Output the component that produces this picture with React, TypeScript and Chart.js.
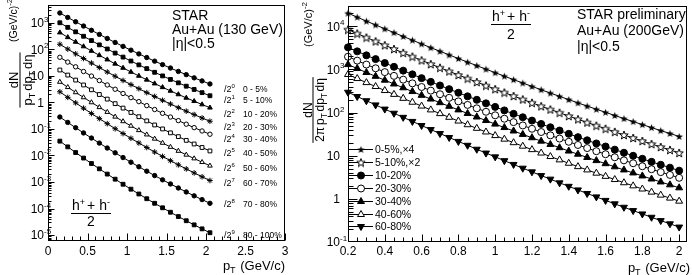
import React, { useEffect, useRef } from 'react';
import { Chart, registerables } from 'chart.js';
import { drawPoint } from 'chart.js/helpers';

Chart.register(...registerables);

// ---------------- Left panel: Au+Au 130 GeV, dN/(pT dpT deta), scaled by 1/2^n ----------------
const ptLeft = [0.15, 0.25, 0.35, 0.45, 0.55, 0.65, 0.75, 0.85, 0.95, 1.05, 1.15, 1.25, 1.35, 1.45, 1.55, 1.65, 1.75, 1.85, 1.95, 2.05];
const cent130 = ['0 - 5%', '5 - 10%', '10 - 20%', '20 - 30%', '30 - 40%', '40 - 50%', '50 - 60%', '60 - 70%', '70 - 80%', '80 - 100%'];
const scaleExp130 = ['0', '1', '2', '3', '4', '5', '6', '7', '8', '9'];
const h130_0_5 = [2340, 1590, 1090, 752, 521, 364, 256, 181, 129, 92.9, 67.1, 48.9, 35.8, 26.5, 19.7, 14.7, 11.1, 8.41, 6.44, 4.95];
const h130_5_10 = [1000, 672, 455, 310, 213, 147, 103, 72.0, 50.9, 36.2, 25.9, 18.7, 13.6, 9.96, 7.34, 5.45, 4.08, 3.07, 2.33, 1.78];
const h130_10_20 = [427, 284, 190, 128, 86.9, 59.4, 41.0, 28.4, 19.9, 14.0, 9.94, 7.11, 5.12, 3.71, 2.71, 2.0, 1.48, 1.11, 0.832, 0.63];
const h130_20_30 = [155, 102, 67.5, 45.1, 30.3, 20.6, 14.0, 9.66, 6.7, 4.68, 3.29, 2.33, 1.67, 1.2, 0.87, 0.635, 0.468, 0.347, 0.259, 0.195];
const h130_30_40 = [50.1, 33.0, 21.9, 14.6, 9.81, 6.65, 4.54, 3.13, 2.17, 1.51, 1.07, 0.755, 0.539, 0.388, 0.281, 0.206, 0.151, 0.112, 0.0838, 0.0631];
const h130_40_50 = [16.6, 10.7, 6.93, 4.53, 2.99, 1.98, 1.33, 0.897, 0.61, 0.418, 0.289, 0.201, 0.141, 0.1, 0.0713, 0.0513, 0.0371, 0.0271, 0.02, 0.0148];
const h130_50_60 = [5.89, 3.73, 2.38, 1.54, 0.998, 0.654, 0.432, 0.287, 0.193, 0.13, 0.089, 0.0612, 0.0424, 0.0297, 0.0209, 0.0148, 0.0106, 0.00768, 0.00559, 0.0041];
const h130_60_70 = [2.51, 1.55, 0.964, 0.605, 0.383, 0.245, 0.158, 0.102, 0.0671, 0.0444, 0.0296, 0.0199, 0.0135, 0.00924, 0.00638, 0.00444, 0.00312, 0.00221, 0.00158, 0.00114];
const h130_70_80 = [0.282, 0.176, 0.111, 0.0707, 0.0453, 0.0293, 0.0191, 0.0126, 0.00834, 0.00558, 0.00376, 0.00256, 0.00175, 0.00121, 0.000846, 0.000595, 0.000422, 0.000302, 0.000218, 0.000158];
const h130_80_100 = [0.0347, 0.0211, 0.0129, 0.00799, 0.00498, 0.00314, 0.00199, 0.00128, 0.000825, 0.000538, 0.000354, 0.000235, 0.000158, 0.000107, 0.0000727, 0.00005, 0.0000348, 0.0000243, 0.0000172, 0.0000123];
const series130 = [h130_0_5, h130_5_10, h130_10_20, h130_20_30, h130_30_40, h130_40_50, h130_50_60, h130_60_70, h130_70_80, h130_80_100];

const leftXTicks = [0, 0.5, 1, 1.5, 2, 2.5, 3];
const leftXTickLabels = ['0', '0.5', '1', '1.5', '2', '2.5', '3'];
const leftYTicks = [1e-5, 1e-4, 1e-3, 1e-2, 1e-1, 1, 10, 100, 1000];
const leftYTickBase = ['10', '10', '10', '10', '10', '1', '10', '10', '10'];
const leftYTickExp = ['-5', '-4', '-3', '-2', '-1', '', '', '2', '3'];

// ---------------- Right panel: Au+Au 200 GeV, dN/(2pi pT dpT deta) ----------------
const ptRight = [0.2, 0.25, 0.3, 0.35, 0.4, 0.45, 0.5, 0.55, 0.6, 0.65, 0.7, 0.75, 0.8, 0.85, 0.9, 0.95, 1.0, 1.05, 1.1, 1.15, 1.2, 1.25, 1.3, 1.35, 1.4, 1.45, 1.5, 1.55, 1.6, 1.65, 1.7, 1.75, 1.8, 1.85, 1.9, 1.95, 2.0];
const cent200 = ['0-5%,\u00d74', '5-10%,\u00d72', '10-20%', '20-30%', '30-40%', '40-60%', '60-80%'];
const h200_0_5x4 = [20000, 16200, 13100, 10700, 8690, 7100, 5790, 4740, 3880, 3180, 2620, 2160, 1780, 1470, 1220, 1010, 836, 695, 578, 482, 403, 337, 282, 237, 199, 167, 141, 119, 101, 85.5, 72.4, 61.7, 52.5, 44.7, 38.1, 32.7, 27.9];
const h200_5_10x2 = [8330, 6750, 5460, 4460, 3620, 2960, 2410, 1975, 1617, 1325, 1092, 900, 742, 612, 508, 421, 348, 290, 241, 201, 168, 140, 117.5, 98.8, 82.9, 69.6, 58.8, 49.6, 42.1, 35.6, 30.2, 25.7, 21.9, 18.6, 15.9, 13.6, 11.6];
const h200_10_20 = [3230, 2610, 2110, 1726, 1402, 1145, 934, 765, 626, 513, 423, 348, 287, 237, 197, 163, 135, 112, 93.2, 77.7, 65.0, 54.4, 45.5, 38.2, 32.1, 26.9, 22.7, 19.2, 16.3, 13.8, 11.7, 9.95, 8.47, 7.21, 6.15, 5.27, 4.5];
const h200_20_30 = [1961, 1593, 1292, 1058, 862, 706, 578, 474, 390, 321, 265, 219, 181, 150, 125, 104, 86.1, 71.8, 59.9, 50.1, 42.0, 35.3, 29.6, 24.9, 21.0, 17.7, 15.0, 12.7, 10.8, 9.18, 7.8, 6.67, 5.69, 4.86, 4.16, 3.58, 3.07];
const h200_30_40 = [1290, 1045, 845, 690, 561, 458, 374, 306, 250, 205, 169, 139, 115, 94.8, 78.7, 65.2, 53.9, 44.8, 37.3, 31.1, 26.0, 21.7, 18.2, 15.3, 12.8, 10.8, 9.1, 7.68, 6.52, 5.52, 4.67, 3.98, 3.39, 2.88, 2.46, 2.11, 1.8];
const h200_40_60 = [760, 612, 493, 400, 323, 263, 213, 173, 141, 115, 94.3, 77.4, 63.4, 52.1, 43.0, 35.4, 29.2, 24.1, 20.0, 16.6, 13.8, 11.5, 9.55, 7.99, 6.67, 5.57, 4.68, 3.93, 3.32, 2.8, 2.36, 2.0, 1.69, 1.43, 1.22, 1.04, 0.883];
const h200_60_80 = [295, 235, 187.5, 150, 120, 96.3, 77.3, 62.2, 50.0, 40.3, 32.6, 26.4, 21.4, 17.4, 14.1, 11.5, 9.38, 7.66, 6.27, 5.13, 4.22, 3.46, 2.86, 2.35, 1.95, 1.61, 1.33, 1.11, 0.92, 0.766, 0.638, 0.534, 0.447, 0.374, 0.313, 0.264, 0.222];
const series200 = [h200_0_5x4, h200_5_10x2, h200_10_20, h200_20_30, h200_30_40, h200_40_60, h200_60_80];

const rightXTicks = [0.2, 0.4, 0.6, 0.8, 1, 1.2, 1.4, 1.6, 1.8, 2];
const rightXTickLabels = ['0.2', '0.4', '0.6', '0.8', '1', '1.2', '1.4', '1.6', '1.8', '2'];
const rightYTicks = [0.1, 1, 10, 100, 1000, 10000];
const rightYTickBase = ['10', '1', '10', '10', '10', '10'];
const rightYTickExp = ['-1', '', '', '2', '3', '4'];

// ---------------- drawing helpers ----------------
const FONT = '"Liberation Sans", Arial, Helvetica, sans-serif';
const fnt = (s: number) => `${s}px ${FONT}`;

type Part = { t: string; s: number; dy?: number; gap?: number };

function partsWidth(ctx: CanvasRenderingContext2D, parts: Part[]) {
  let w = 0;
  for (const p of parts) {
    ctx.font = fnt(p.s);
    w += ctx.measureText(p.t).width + (p.gap || 0);
  }
  return w;
}

function drawRich(ctx: CanvasRenderingContext2D, parts: Part[], x: number, y: number, align: 'left' | 'center' | 'right') {
  const w = partsWidth(ctx, parts);
  let cx = align === 'left' ? x : align === 'center' ? x - w / 2 : x - w;
  ctx.textAlign = 'left';
  ctx.textBaseline = 'alphabetic';
  for (const p of parts) {
    ctx.font = fnt(p.s);
    ctx.fillText(p.t, cx, y + (p.dy || 0));
    cx += ctx.measureText(p.t).width + (p.gap || 0);
  }
}

type AxisCfg = {
  xTicks: number[]; xTickLabels: string[]; xStart: number; xMinorStep: number; xMajorStep: number;
  xMajorLen: number; xMinorLen: number; xLabelBaseline: number;
  yTicks: number[]; yTickBase: string[]; yTickExp: string[]; yMajorLen: number; yMinorLen: number; yLabelGap: number;
  tickFont: number; expFont: number;
};

function drawAxes(chart: any, cfg: AxisCfg) {
  const { ctx, chartArea: a } = chart;
  const xs = chart.scales.x, ys = chart.scales.y;
  const L = Math.round(a.left) + 0.5, R = Math.round(a.right) - 0.5, T = Math.round(a.top) + 0.5, B = Math.round(a.bottom) - 0.5;
  ctx.save();
  ctx.strokeStyle = '#000';
  ctx.fillStyle = '#000';
  ctx.lineWidth = 1;
  ctx.strokeRect(L, T, R - L, B - T);
  ctx.beginPath();
  for (let i = 0; i < 500; i++) {
    const v = cfg.xStart + i * cfg.xMinorStep;
    if (v > xs.max + 1e-9) break;
    const px = Math.round(xs.getPixelForValue(v)) + 0.5;
    const q = (v - cfg.xStart) / cfg.xMajorStep;
    const major = Math.abs(q - Math.round(q)) < 1e-6;
    ctx.moveTo(px, B);
    ctx.lineTo(px, B - (major ? cfg.xMajorLen : cfg.xMinorLen));
  }
  const lo = Math.floor(Math.log10(ys.min)), hi = Math.ceil(Math.log10(ys.max));
  for (let d = lo; d <= hi; d++) {
    for (let k = 1; k <= 9; k++) {
      const v = k * Math.pow(10, d);
      if (v <= ys.min || v >= ys.max) continue;
      const py = Math.round(ys.getPixelForValue(v)) + 0.5;
      ctx.moveTo(L, py);
      ctx.lineTo(L + (k === 1 ? cfg.yMajorLen : cfg.yMinorLen), py);
    }
  }
  ctx.stroke();
  cfg.xTicks.forEach((v, i) => {
    drawRich(ctx, [{ t: cfg.xTickLabels[i], s: cfg.tickFont }], xs.getPixelForValue(v), cfg.xLabelBaseline, 'center');
  });
  cfg.yTicks.forEach((v, i) => {
    const py = ys.getPixelForValue(v);
    const xr = a.left - cfg.yLabelGap;
    ctx.textBaseline = 'alphabetic';
    ctx.font = fnt(cfg.tickFont);
    ctx.textAlign = 'right';
    ctx.fillText(cfg.yTickBase[i], xr, py + cfg.tickFont * 0.36);
    if (cfg.yTickExp[i]) {
      ctx.font = fnt(cfg.expFont);
      ctx.textAlign = 'left';
      ctx.fillText(cfg.yTickExp[i], xr, py - 1);
    }
  });
  ctx.restore();
}

function drawHFrac(ctx: CanvasRenderingContext2D, cx: number, numBase: number, barY: number, denBase: number, s: number) {
  const parts: Part[] = [
    { t: 'h', s },
    { t: '+', s: s * 0.65, dy: -s * 0.38, gap: 2 },
    { t: '+ h', s },
    { t: '-', s: s * 0.65, dy: -s * 0.38 },
  ];
  drawRich(ctx, parts, cx, numBase, 'center');
  const w = partsWidth(ctx, parts);
  ctx.fillRect(Math.round(cx - w / 2 - 1), barY, Math.round(w + 2), 1);
  drawRich(ctx, [{ t: '2', s }], cx, denBase, 'center');
}

function makeStar(size: number, filled: boolean) {
  const c = document.createElement('canvas');
  c.width = size;
  c.height = size;
  const g = c.getContext('2d')!;
  const cx = size / 2, cy = size / 2 + 0.4, R = size / 2 - 0.6, r = R * 0.42;
  g.beginPath();
  for (let i = 0; i < 10; i++) {
    const ang = -Math.PI / 2 + (i * Math.PI) / 5;
    const rad = i % 2 === 0 ? R : r;
    g.lineTo(cx + rad * Math.cos(ang), cy + rad * Math.sin(ang));
  }
  g.closePath();
  if (filled) {
    g.fillStyle = '#000';
    g.fill();
  } else {
    g.fillStyle = '#fff';
    g.fill();
    g.strokeStyle = '#000';
    g.lineWidth = 1;
    g.stroke();
  }
  return c;
}

// ---------------- chart builders ----------------
function buildLeft(canvas: HTMLCanvasElement) {
  const styles: any[] = [
    { ps: 'circle', r: 2.2, bg: '#000' },
    { ps: 'rect', r: 2.7, bg: '#000' },
    { ps: 'triangle', r: 2.7, bg: '#000' },
    { ps: 'star', r: 2.8, bg: '#000' },
    { ps: 'circle', r: 2.2, bg: '#fff' },
    { ps: 'rect', r: 2.7, bg: '#fff' },
    { ps: 'triangle', r: 2.7, bg: '#fff' },
    { ps: 'star', r: 2.8, bg: '#000' },
    { ps: 'circle', r: 2.2, bg: '#000' },
    { ps: 'rect', r: 2.7, bg: '#000' },
  ];
  const datasets = series130.map((ys, k) => ({
    label: cent130[k],
    data: ptLeft.map((x, i) => ({ x, y: ys[i] })),
    showLine: true,
    borderColor: '#000',
    borderWidth: 1,
    pointStyle: styles[k].ps,
    pointRadius: styles[k].r,
    pointBackgroundColor: styles[k].bg,
    pointBorderColor: '#000',
    pointBorderWidth: 1,
    clip: false,
  }));
  const labelY = [89, 100, 114, 127, 139, 153, 168, 183, 204, 235];
  const plugin = {
    id: 'leftDecor',
    afterDraw(chart: any) {
      const ctx: CanvasRenderingContext2D = chart.ctx;
      drawAxes(chart, {
        xTicks: leftXTicks, xTickLabels: leftXTickLabels, xStart: 0, xMinorStep: 0.1, xMajorStep: 0.5,
        xMajorLen: 7, xMinorLen: 4, xLabelBaseline: 254.5,
        yTicks: leftYTicks, yTickBase: leftYTickBase, yTickExp: leftYTickExp, yMajorLen: 6, yMinorLen: 3, yLabelGap: 4,
        tickFont: 12, expFont: 8,
      });
      ctx.save();
      ctx.fillStyle = '#000';
      drawRich(ctx, [{ t: 'STAR', s: 14 }], 172, 20, 'left');
      drawRich(ctx, [{ t: 'Au+Au (130 GeV)', s: 14 }], 172, 34, 'left');
      drawRich(ctx, [{ t: '|\u03b7|<0.5', s: 14 }], 172, 48, 'left');
      cent130.forEach((c, i) => {
        drawRich(ctx, [{ t: '/2', s: 9 }, { t: scaleExp130[i], s: 6, dy: -4 }], 224, labelY[i] + 3, 'left');
        drawRich(ctx, [{ t: c, s: 8.5 }], 243, labelY[i] + 3, 'left');
      });
      drawHFrac(ctx, 91, 210, 213, 226, 14);
      drawRich(ctx, [{ t: 'p', s: 13 }, { t: 'T', s: 9, dy: 3, gap: 1 }, { t: ' (GeV/c)', s: 13 }], 285, 270, 'right');
      // rotated y title
      ctx.translate(20, 80);
      ctx.rotate(-Math.PI / 2);
      drawRich(ctx, [{ t: 'dN', s: 13 }], 0, -2.5, 'center');
      const den: Part[] = [
        { t: 'p', s: 13 }, { t: 'T', s: 9, dy: 3, gap: 2 },
        { t: 'dp', s: 13 }, { t: 'T', s: 9, dy: 3, gap: 2 },
        { t: 'd\u03b7', s: 13 },
      ];
      drawRich(ctx, den, 0, 11.5, 'center');
      const dw = partsWidth(ctx, den);
      ctx.fillRect(-dw / 2 - 2, -0.5, dw + 4, 1);
      drawRich(ctx, [{ t: '(GeV/c)', s: 10.5 }, { t: '-2', s: 8, dy: -5 }], 38, -3, 'left');
      ctx.restore();
    },
  };
  return new Chart(canvas, {
    type: 'scatter',
    data: { datasets } as any,
    options: {
      responsive: false,
      animation: false,
      devicePixelRatio: 1,
      events: [],
      layout: { padding: { left: 48, right: 2, top: 2, bottom: 34 } },
      scales: {
        x: { type: 'linear', min: 0, max: 3, display: false },
        y: { type: 'logarithmic', min: 6e-6, max: 4670, display: false },
      },
      plugins: { legend: { display: false }, tooltip: { enabled: false } },
    } as any,
    plugins: [plugin],
  });
}

function buildRight(canvas: HTMLCanvasElement) {
  const starFilled = makeStar(9, true);
  const starOpen = makeStar(10, false);
  const styles: any[] = [
    { ps: starFilled, r: 4, bg: '#000', rot: 0 },
    { ps: starOpen, r: 4.5, bg: '#fff', rot: 0 },
    { ps: 'circle', r: 3.5, bg: '#000', rot: 0 },
    { ps: 'circle', r: 3.5, bg: '#fff', rot: 0 },
    { ps: 'triangle', r: 4, bg: '#000', rot: 0 },
    { ps: 'triangle', r: 4, bg: '#fff', rot: 0 },
    { ps: 'triangle', r: 4, bg: '#000', rot: 180 },
  ];
  const datasets = series200.map((ys, k) => ({
    label: cent200[k],
    data: ptRight.map((x, i) => ({ x, y: ys[i] })),
    showLine: true,
    borderColor: '#000',
    borderWidth: 1,
    pointStyle: styles[k].ps,
    pointRadius: styles[k].r,
    pointRotation: styles[k].rot,
    pointBackgroundColor: styles[k].bg,
    pointBorderColor: '#000',
    pointBorderWidth: 1,
    clip: false,
  }));
  const plugin = {
    id: 'rightDecor',
    afterDraw(chart: any) {
      const ctx: CanvasRenderingContext2D = chart.ctx;
      drawAxes(chart, {
        xTicks: rightXTicks, xTickLabels: rightXTickLabels, xStart: 0.2, xMinorStep: 0.05, xMajorStep: 0.2,
        xMajorLen: 7, xMinorLen: 4, xLabelBaseline: 255,
        yTicks: rightYTicks, yTickBase: rightYTickBase, yTickExp: rightYTickExp, yMajorLen: 9, yMinorLen: 5, yLabelGap: 8,
        tickFont: 12, expFont: 8,
      });
      ctx.save();
      ctx.fillStyle = '#000';
      ctx.strokeStyle = '#000';
      drawRich(ctx, [{ t: 'STAR preliminary', s: 14 }], 287, 19, 'left');
      drawRich(ctx, [{ t: 'Au+Au (200GeV)', s: 14 }], 287, 35, 'left');
      drawRich(ctx, [{ t: '|\u03b7|<0.5', s: 14 }], 287, 51, 'left');
      drawHFrac(ctx, 221, 21, 24, 39, 14);
      // legend
      cent200.forEach((c, i) => {
        const y = 149 + i * 12.9;
        ctx.lineWidth = 1;
        ctx.beginPath();
        ctx.moveTo(59, Math.round(y) + 0.5);
        ctx.lineTo(83, Math.round(y) + 0.5);
        ctx.stroke();
        ctx.fillStyle = styles[i].bg;
        ctx.strokeStyle = '#000';
        drawPoint(ctx, { pointStyle: styles[i].ps, rotation: styles[i].rot, radius: styles[i].r, borderWidth: 1 } as any, 71, Math.round(y) + 0.5);
        ctx.fillStyle = '#000';
        drawRich(ctx, [{ t: c, s: 10.5 }], 85, y + 4, 'left');
      });
      drawRich(ctx, [{ t: 'p', s: 13 }, { t: 'T', s: 9, dy: 3, gap: 1 }, { t: ' (GeV/c)', s: 13 }], 400, 272, 'right');
      // rotated y title
      ctx.translate(23, 110);
      ctx.rotate(-Math.PI / 2);
      drawRich(ctx, [{ t: 'dN', s: 12 }], 0, -1.5, 'center');
      const den: Part[] = [
        { t: '2\u03c0', s: 12, gap: 2 },
        { t: 'p', s: 12 }, { t: 'T', s: 8.5, dy: 3, gap: 1.5 },
        { t: 'dp', s: 12 }, { t: 'T', s: 8.5, dy: 3, gap: 1.5 },
        { t: 'd\u03b7', s: 12 },
      ];
      drawRich(ctx, den, 0, 10.5, 'center');
      const dw = partsWidth(ctx, den);
      ctx.fillRect(-dw / 2 - 1, -0.5, dw + 2, 1);
      drawRich(ctx, [{ t: '(GeV/c)', s: 11 }, { t: '-2', s: 8, dy: -5 }], 63, -1.5, 'left');
      ctx.restore();
    },
  };
  return new Chart(canvas, {
    type: 'scatter',
    data: { datasets } as any,
    options: {
      responsive: false,
      animation: false,
      devicePixelRatio: 1,
      events: [],
      layout: { padding: { left: 58, right: 2, top: 2, bottom: 33 } },
      scales: {
        x: { type: 'linear', min: 0.2, max: 2.04, display: false },
        y: { type: 'logarithmic', min: 0.1, max: 30150, display: false },
      },
      plugins: { legend: { display: false }, tooltip: { enabled: false } },
    } as any,
    plugins: [plugin],
  });
}

export default function App() {
  const leftRef = useRef<HTMLCanvasElement>(null);
  const rightRef = useRef<HTMLCanvasElement>(null);
  useEffect(() => {
    const c1 = buildLeft(leftRef.current!);
    const c2 = buildRight(rightRef.current!);
    return () => {
      c1.destroy();
      c2.destroy();
    };
  }, []);
  return (
    <div style={{ position: 'absolute', left: 0, top: 0, width: 692, height: 275, background: '#fff', overflow: 'hidden' }}>
      <canvas ref={leftRef} width={290} height={275} style={{ position: 'absolute', left: 0, top: 0 }} />
      <canvas ref={rightRef} width={402} height={275} style={{ position: 'absolute', left: 290, top: 0 }} />
    </div>
  );
}
